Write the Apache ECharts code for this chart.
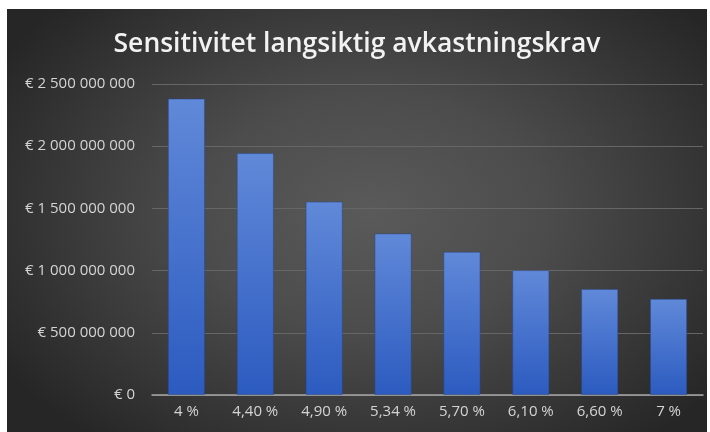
<!DOCTYPE html>
<html>
<head>
<meta charset="utf-8">
<script src="https://cdn.jsdelivr.net/npm/echarts@6/dist/echarts.min.js"></script>
<style>
  html, body { margin: 0; padding: 0; background: #ffffff; width: 710px; height: 432px; overflow: hidden; }
  #chart {
    position: absolute; left: 7px; top: 9px; width: 700px; height: 423px;
    background: radial-gradient(ellipse 62% 70% at 52% 48%, #5a5a5a 0%, #4c4c4c 40%, #363636 75%, #262626 100%);
  }
</style>
</head>
<body>
<div id="chart"></div>
<script>
// Discount-rate scenarios and the resulting value (EUR)
const categories = ['4 %', '4,40 %', '4,90 %', '5,34 %', '5,70 %', '6,10 %', '6,60 %', '7 %'];
const values = [2382000000, 1944000000, 1554000000, 1298000000, 1151000000, 1003000000, 852000000, 772000000];
const yTicks = [0, 500000000, 1000000000, 1500000000, 2000000000, 2500000000];
const yTickLabels = ['€ 0', '€ 500 000 000', '€ 1 000 000 000', '€ 1 500 000 000', '€ 2 000 000 000', '€ 2 500 000 000'];
const titleText = 'Sensitivitet langsiktig avkastningskrav';

const chart = echarts.init(document.getElementById('chart'), null, { renderer: 'canvas' });

chart.setOption({
  backgroundColor: 'transparent',
  animation: false,
  title: {
    text: titleText,
    left: 'center',
    top: 17,
    textStyle: {
      color: '#f2f2f2',
      fontFamily: 'Open Sans',
      fontWeight: 600,
      fontSize: 26.5
    }
  },
  grid: { left: 145, right: 4, top: 75, bottom: 37 },
  xAxis: {
    type: 'category',
    data: categories,
    axisLine: { lineStyle: { color: '#a6a6a6', width: 1.5 } },
    axisTick: { show: false },
    axisLabel: {
      color: '#d4d4d4',
      fontFamily: 'Open Sans',
      fontSize: 15,
      margin: 9
    }
  },
  yAxis: {
    type: 'value',
    min: yTicks[0],
    max: yTicks[yTicks.length - 1],
    interval: yTicks[1] - yTicks[0],
    axisLine: { show: false },
    axisTick: { show: false },
    splitLine: { lineStyle: { color: '#666666', width: 1 } },
    axisLabel: {
      color: '#d4d4d4',
      fontFamily: 'Open Sans',
      fontSize: 15,
      margin: 17,
      formatter: function (v) {
        const i = yTicks.indexOf(v);
        return i >= 0 ? yTickLabels[i] : '';
      }
    }
  },
  series: [{
    type: 'bar',
    data: values,
    barWidth: 37,
    itemStyle: {
      color: new echarts.graphic.LinearGradient(0, 0, 0, 1, [
        { offset: 0, color: '#6189d9' },
        { offset: 1, color: '#2c5bc0' }
      ]),
      borderColor: 'rgba(40,70,140,0.6)',
      borderWidth: 0.8
    }
  }]
});
</script>
</body>
</html>
